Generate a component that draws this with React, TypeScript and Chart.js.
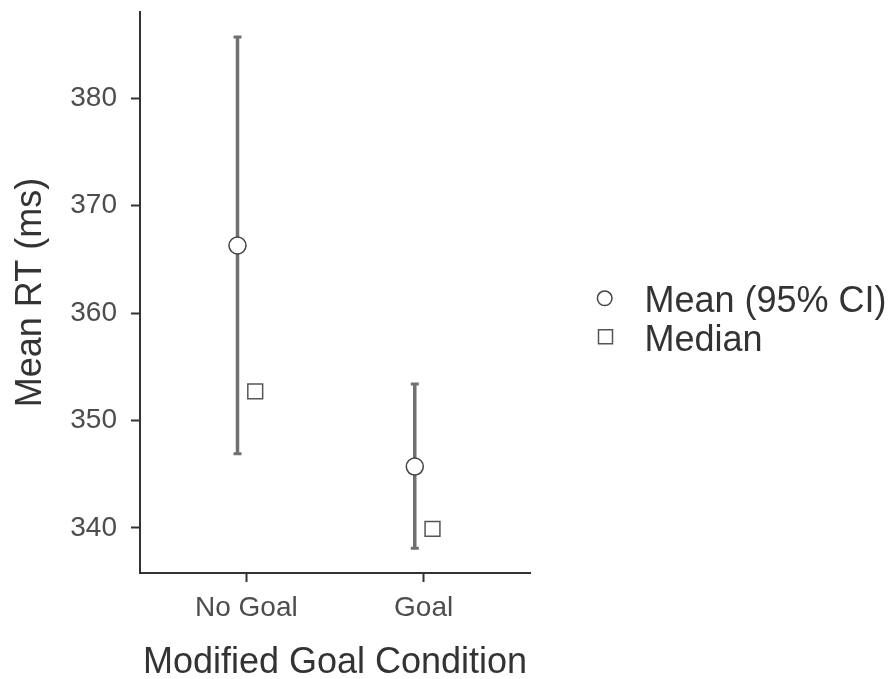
import React, { useEffect, useRef } from 'react';
import { Chart, registerables } from 'chart.js';

Chart.register(...registerables);

const categories = ['No Goal', 'Goal'];
const meanRT = [366.3, 345.7];
const ciLower = [346.9, 338.1];
const ciUpper = [385.7, 353.4];
const medianRT = [352.7, 339.9];
const yTicks = [340, 350, 360, 370, 380];
const legendLabels = ['Mean (95% CI)', 'Median'];
const xTitle = 'Modified Goal Condition';
const yTitle = 'Mean RT (ms)';
const yMin = 335.79;
const yMax = 388.04;
const dodge = 0.05;

const FONT = '"Liberation Sans", Arial, Helvetica, sans-serif';

export default function App() {
  const ref = useRef<HTMLCanvasElement>(null);

  useEffect(() => {
    if (!ref.current) return;

    const errorBars = {
      id: 'errorBars',
      beforeDatasetsDraw(chart: any) {
        const { ctx, scales } = chart;
        const x = scales.x;
        const y = scales.y;
        ctx.save();
        ctx.strokeStyle = '#707070';
        ctx.lineCap = 'butt';
        categories.forEach((_, i) => {
          const px = x.getPixelForValue(i + 1 - dodge);
          const top = y.getPixelForValue(ciUpper[i]);
          const bot = y.getPixelForValue(ciLower[i]);
          ctx.lineWidth = 3.5;
          ctx.beginPath();
          ctx.moveTo(px, top);
          ctx.lineTo(px, bot);
          ctx.stroke();
          ctx.lineWidth = 3;
          ctx.beginPath();
          ctx.moveTo(px - 4, top);
          ctx.lineTo(px + 4, top);
          ctx.moveTo(px - 4, bot);
          ctx.lineTo(px + 4, bot);
          ctx.stroke();
        });
        ctx.restore();
      },
    };

    const customLegend = {
      id: 'customLegend',
      afterDraw(chart: any) {
        const ctx = chart.ctx;
        ctx.save();
        ctx.fillStyle = '#fff';
        ctx.strokeStyle = '#444';
        ctx.lineWidth = 1.5;
        ctx.beginPath();
        ctx.arc(604.7, 298.3, 7.3, 0, Math.PI * 2);
        ctx.fill();
        ctx.stroke();
        ctx.strokeStyle = '#555';
        ctx.beginPath();
        ctx.rect(605.5 - 7, 336.7 - 7, 14, 14);
        ctx.fill();
        ctx.stroke();
        ctx.font = `36px ${FONT}`;
        ctx.fillStyle = '#333';
        ctx.textAlign = 'left';
        ctx.textBaseline = 'alphabetic';
        ctx.fillText(legendLabels[0], 644.5, 311.7);
        ctx.fillText(legendLabels[1], 644.5, 350.7);
        ctx.restore();
      },
    };

    const chart = new Chart(ref.current, {
      type: 'scatter',
      data: {
        datasets: [
          {
            label: legendLabels[0],
            data: meanRT.map((v, i) => ({ x: i + 1 - dodge, y: v })),
            pointStyle: 'circle',
            pointRadius: 8.5,
            pointBackgroundColor: '#ffffff',
            pointBorderColor: '#444444',
            pointBorderWidth: 1.5,
          },
          {
            label: legendLabels[1],
            data: medianRT.map((v, i) => ({ x: i + 1 + dodge, y: v })),
            pointStyle: 'rect',
            pointRadius: 10.5,
            pointBackgroundColor: '#ffffff',
            pointBorderColor: '#555555',
            pointBorderWidth: 1.5,
          },
        ],
      },
      options: {
        responsive: false,
        animation: false,
        devicePixelRatio: 1,
        events: [],
        layout: { padding: { top: 9, right: 366, left: 0, bottom: 0 } },
        plugins: {
          legend: { display: false },
          tooltip: { enabled: false },
        },
        scales: {
          x: {
            type: 'linear',
            min: 0.4,
            max: 2.6,
            afterBuildTicks: (s: any) => {
              s.ticks = categories.map((_, i) => ({ value: i + 1 }));
            },
            afterFit: (s: any) => {
              s.height = 106;
              s.paddingLeft = 0;
              s.paddingRight = 0;
            },
            ticks: {
              callback: (v: any) => categories[Math.round(Number(v)) - 1] ?? '',
              font: { size: 28, family: FONT },
              color: '#4d4d4d',
              padding: 9,
              maxRotation: 0,
              autoSkip: false,
            },
            grid: {
              drawOnChartArea: false,
              drawTicks: true,
              tickLength: 9,
              tickWidth: 2,
              tickColor: '#333',
            },
            border: { display: true, color: '#333', width: 2 },
            title: {
              display: true,
              text: xTitle,
              font: { size: 36, family: FONT, lineHeight: 0.89 },
              color: '#333',
              padding: 0,
            },
          },
          y: {
            type: 'linear',
            min: yMin,
            max: yMax,
            afterBuildTicks: (s: any) => {
              s.ticks = yTicks.map((v) => ({ value: v }));
            },
            afterFit: (s: any) => {
              s.width = 140;
              s.paddingTop = 0;
              s.paddingBottom = 0;
            },
            ticks: {
              font: { size: 28, family: FONT },
              color: '#4d4d4d',
              padding: 14,
            },
            grid: {
              drawOnChartArea: false,
              drawTicks: true,
              tickLength: 9,
              tickWidth: 2,
              tickColor: '#333',
            },
            border: { display: true, color: '#333', width: 2 },
            title: {
              display: true,
              text: yTitle,
              font: { size: 36, family: FONT, lineHeight: 0.89 },
              color: '#333',
              padding: { top: 15, bottom: 0 },
            },
          },
        },
      },
      plugins: [errorBars, customLegend],
    } as any);

    return () => chart.destroy();
  }, []);

  return (
    <div style={{ position: 'absolute', left: 0, top: 0, width: 896, height: 679, background: '#fff' }}>
      <canvas ref={ref} width={896} height={679} style={{ width: 896, height: 679 }} />
    </div>
  );
}
